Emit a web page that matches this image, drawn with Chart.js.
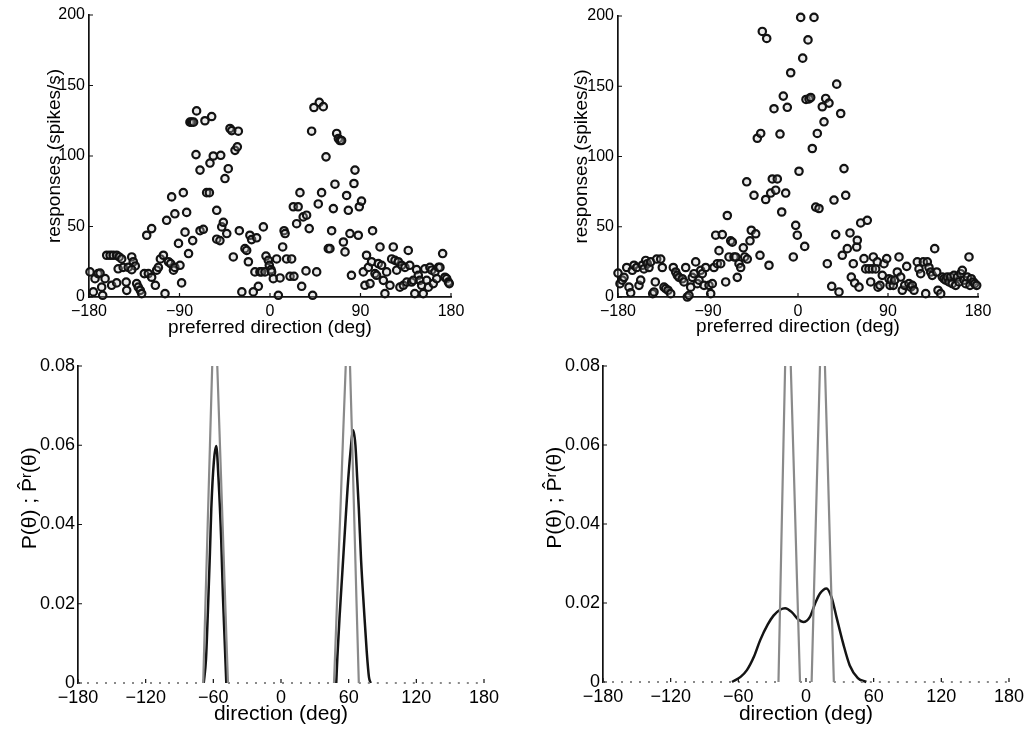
<!DOCTYPE html>
<html>
<head>
<meta charset="utf-8">
<script src="https://cdn.jsdelivr.net/npm/chart.js@4.4.1/dist/chart.umd.min.js"></script>
<style>
html, body { margin: 0; padding: 0; background: #fff; }
#wrap { position: relative; width: 1028px; height: 729px; }
canvas { position: absolute; }
</style>
</head>
<body>
<div id="wrap">
<canvas id="tl" width="514" height="340" style="left:0;top:0;width:514px;height:340px"></canvas>
<canvas id="tr" width="514" height="340" style="left:514px;top:0;width:514px;height:340px"></canvas>
<canvas id="bl" width="514" height="389" style="left:0;top:340px;width:514px;height:389px"></canvas>
<canvas id="br" width="514" height="389" style="left:514px;top:340px;width:514px;height:389px"></canvas>
</div>
<script>
// tick labels
const dirTicksTop = [-180, -90, 0, 90, 180];
const rateTicks = [0, 50, 100, 150, 200];
const dirTicksBottom = [-180, -120, -60, 0, 60, 120, 180];
const probTicks = [0, 0.02, 0.04, 0.06, 0.08];

// top left: [preferred direction, response]
const cellsLeft = [
  [-179,17.8],[-175.7,3.6],[-174,13],[-171,16.6],[-169,17],[-167.4,7],[-166.4,1.2],[-164,13],[-162.4,29.6],[-159,29.6],
  [-156,29.6],[-152.5,29.6],[-157.5,8.3],[-152.5,10],[-150,28.4],[-147.5,27],[-151,20],[-146,21],[-143,10.6],[-142.5,4.7],
  [-141,21],[-137.5,28.4],[-136,25],[-134,22],[-137.5,19.4],[-132.6,9.5],[-131,7],[-129,4.7],[-127.6,2.4],[-125,16.6],
  [-122.6,43.8],[-121,16.6],[-117.7,48.5],[-117.7,14],[-114,8.3],[-112.7,19],[-111,21],[-109,27],[-106,29.6],[-104.4,2.4],
  [-102.8,54.4],[-101,25],[-98.8,23.7],[-97.8,71],[-96,19],[-94.6,21],[-94.6,59],[-91,38],[-89.5,22.5],[-87.9,10],
  [-86.2,74],[-84.5,46],[-82.9,60],[-81,30.8],[-79.6,124],[-78,124],[-76,124],[-76.9,40],[-73.6,101],[-73,132],
  [-69.6,90],[-69.6,47],[-66.3,48],[-64.7,125],[-63,74],[-60.3,74],[-59.7,95],[-58,128],[-56.4,100],[-53,61.5],
  [-53,41],[-49.8,40],[-49,100.5],[-48,49.7],[-46.4,53],[-44.8,84],[-43,45],[-41.5,91],[-39.8,119.5],[-38,118],
  [-36.5,28.4],[-34.8,104],[-32.5,106.5],[-31.5,117.6],[-30.5,47],[-28,3.6],[-24.9,34.3],[-23.2,33],[-21.5,25],[-20,43.8],
  [-18.3,40.7],[-16.6,3.6],[-15,17.8],[-13.3,42],[-11.6,7.6],[-10,17.8],[-8.3,17.8],[-6.6,49.7],[-5,17.8],[-4,29],
  [-1.7,26],[-0.7,22.5],[1,19.4],[1.6,17.8],[3.3,13],[6.6,27],[8.3,1.2],[10,13.5],[12.6,35.5],[14,47],
  [15,45],[16.5,27],[19.9,14.7],[21.5,27],[23.2,64],[23.8,14.7],[26.5,52],[28,64],[29.8,74],[31.5,7.6],
  [33,56.8],[35.8,18.5],[36.4,58],[39,48.5],[41.4,117.6],[42.4,1.2],[43.7,134.4],[46.4,17.8],[48,66],[49,138],
  [51.3,74],[53,135],[55.7,99.4],[58,34.3],[59.6,34.3],[61.3,47],[63,62.7],[64.6,80],[66.3,116],[68,112.4],
  [69.6,111],[71.2,111],[73,39],[74.6,32],[76.2,72],[77.9,61.5],[79.5,45],[81,15.4],[83.5,80.5],[84.5,90],
  [87.8,43.8],[88.8,64],[91,68],[92.8,17.8],[94.4,8.3],[96,29.6],[97.8,21],[99.5,9.5],[101,25],[102,47],
  [104.4,16.6],[106,15.4],[107.7,23.7],[109.4,35.5],[111,22.5],[112.7,11.8],[114.3,2.4],[116,17.8],[119.3,8.3],[121,27],
  [122.6,35.5],[124.3,26],[126,19],[127.6,25],[129.2,7],[131,22.5],[132.6,8.3],[134.2,21],[136,10.6],[137.5,33],
  [139,22.5],[140.8,10.6],[142.5,11.8],[144,2.4],[145.8,19.4],[147.5,15.4],[149,11.8],[150.8,8.3],[152.4,2.4],[154,20],
  [155.8,11.8],[157.5,7],[159,21],[160.8,19],[162.4,9.5],[164,17.8],[165.8,13],[167.5,21],[169,21],[171.7,30.8],
  [174,14],[175.7,13],[177.4,10.6],[178.3,9.5]
];

// top right: [preferred direction, response]
const cellsRight = [
  [-180,17],[-178,9.5],[-175.7,12],[-174,14],[-171.3,21],[-169,7],[-167.3,3],[-165.7,19],[-164,22.6],[-161.3,21],
  [-159,8.3],[-157.3,12],[-155.7,22.6],[-154,20],[-152.3,26],[-150.7,23.7],[-149,21],[-147.3,25],[-145.3,2.4],[-144,3.6],
  [-142.7,10.7],[-141.3,27],[-137.3,27],[-135.7,21],[-134,7],[-132.3,6],[-130,4.8],[-127.3,2.4],[-124.7,21],[-122.3,17.8],
  [-120.7,15.4],[-119,14],[-115.7,13],[-114,10.7],[-112.3,21],[-110.7,0],[-109,1.2],[-107.3,7],[-105.7,14],[-104,16.6],
  [-102.3,25],[-100.7,9.5],[-99,12],[-97.3,19],[-95.7,16.6],[-94,8.3],[-92.3,21],[-89,8.3],[-87.3,2.4],[-85.7,9.5],
  [-84,21],[-82.3,44],[-80.7,23.7],[-79,33],[-77.3,23.7],[-75.7,44.4],[-72.3,10.7],[-70.7,58],[-69,28.5],[-67.3,40],
  [-65.7,39],[-64,28.5],[-62.3,28.5],[-60.7,14],[-59,23.7],[-57.3,21],[-54.7,35],[-53.3,28.5],[-51.3,82],[-50.7,27],
  [-48,40],[-46.7,47.5],[-44,72.4],[-42.3,45],[-40.7,113],[-38,29.7],[-37.3,116.4],[-35.7,189],[-32.3,69.4],[-31.3,184],
  [-29,22.6],[-27.3,74],[-25.7,84],[-24,134],[-22.3,76],[-20.7,84],[-18,116],[-16.3,60.5],[-14.7,143],[-12.3,74],
  [-10.7,135],[-7.3,159.6],[-4.7,28.5],[-2.3,51],[-0.7,44],[1,89.5],[2.7,199],[4.7,170],[6.7,36],[8,140.6],
  [10,183],[11,141],[12.7,142],[14.3,105.7],[16,199],[17.7,64],[19.3,116.4],[21,63],[24.3,135.4],[26,124.7],
  [27.7,141.3],[29.3,23.7],[31,138],[33.7,7.6],[36,69],[37.7,44.4],[38.7,151.5],[41,3.6],[42.7,130.6],[44.3,29.7],
  [46,91.4],[47.7,72.4],[49.3,34.4],[52,45.6],[53.3,14.2],[55.3,23.7],[56.7,10],[58.7,35.6],[59.3,40.4],[61,7],
  [62.7,52.7],[66,27.3],[67.7,20],[69.3,54.6],[71,20],[72.7,10.7],[74.3,20],[75.3,28.5],[77.7,20],[79.3,25],
  [80,7],[82,8.3],[84.3,15.4],[86,23.7],[88.7,27.3],[91,13],[92,8.3],[93.3,12],[95.3,8.3],[96.7,12],
  [99.3,17.8],[101,28.5],[102.7,14.2],[104.3,4.8],[106.7,8.3],[108.7,21.8],[111,9.5],[112.7,7],[114.3,8.3],[116,4.8],
  [119.3,25],[121,20],[122.7,16.6],[125.3,25],[127.7,2.4],[129.3,25],[131,21],[132.7,17.8],[134.3,15.4],[136.7,34.4],
  [138.7,17.8],[140,4.8],[142.7,2.4],[144.3,14.2],[146,13],[147.7,12],[149.3,14.2],[151,10.7],[152.7,14.2],[154.3,9.5],
  [156,15.4],[157.7,8.3],[159.3,14.2],[161,10.7],[162.7,16.6],[164.3,19],[166,12],[167.7,9.5],[169.3,14.2],[171,28.5],
  [172,8.3],[173.3,13],[175.3,10.7],[176.7,9.5],[178.7,8.3]
];

// bottom left: true distribution P(theta) and estimate
const trueLeft = [
  [-180,0],[-69,0],[-67,0.02],[-65,0.04],[-63,0.06],[-61,0.08],[-58.9,0.101],[-56.5,0.08],[-54,0.059],[-52,0.042],
  [-50,0.025],[-48,0.008],[-47,0],[47,0],[49,0.015],[51,0.031],[53,0.046],[55,0.062],[57,0.077],[59.6,0.097],
  [61.2,0.08],[63,0.062],[65,0.041],[67,0.02],[69,0],[180,0]
];
const estLeft = [
  [-68.5,0],[-66.5,0.006],[-64.7,0.019],[-63,0.033],[-61.8,0.044],[-59.5,0.056],[-57.4,0.0598],[-55.5,0.052],[-53,0.036],
  [-51.5,0.022],[-50,0.011],[-48.5,0],[0,null],
  [49,0],[50,0.0066],[52,0.017],[54.4,0.028],[57,0.04],[59,0.049],[61.5,0.058],[64,0.0638],[66,0.06],[67.5,0.052],
  [69,0.044],[71,0.031],[73.5,0.019],[76,0.008],[78,0.0015],[79.5,0]
];

// bottom right
const trueRight = [
  [-180,0],[-24.4,0],[-22,0.033],[-20,0.06],[-18.5,0.08],[-16.4,0.108],[-13.5,0.08],[-11,0.056],[-8,0.026],[-5.3,0],
  [5,0],[7,0.022],[9.5,0.049],[12.4,0.08],[14.5,0.103],[16.8,0.08],[19,0.058],[22,0.027],[24.7,0],[180,0]
];
const estRight = [
  [-65.6,0],[-58,0.0013],[-52.4,0.003],[-46,0.0065],[-40.6,0.0106],[-34,0.0145],[-28.8,0.0168],[-23,0.0183],[-18.5,0.0187],
  [-12.6,0.0177],[-6.8,0.0158],[-2.4,0.0152],[3.5,0.0165],[8,0.0198],[12.4,0.0224],[18.2,0.0237],[22.6,0.0215],[27,0.0165],
  [33,0.0097],[38.8,0.0042],[46,0.001],[53.5,0]
];

const FONT = '"Liberation Sans", Arial, Helvetica, sans-serif';
const INK = '#000';

const pts = arr => arr.map(p => ({x: p[0], y: p[1]}));
const signed = v => v < 0 ? '\u2212' + Math.abs(v) : String(v);

// MATLAB style ticks pointing into the plot
const innerTicks = {
  id: 'innerTicks',
  afterDraw(chart) {
    const {ctx, chartArea: a} = chart;
    const x = chart.scales.x, y = chart.scales.y;
    ctx.save();
    ctx.strokeStyle = '#111';
    ctx.lineWidth = 1.2;
    ctx.beginPath();
    x.ticks.forEach(t => {
      const px = x.getPixelForValue(t.value);
      ctx.moveTo(px, a.bottom); ctx.lineTo(px, a.bottom - 4);
    });
    y.ticks.forEach(t => {
      const py = y.getPixelForValue(t.value);
      ctx.moveTo(a.left, py); ctx.lineTo(a.left + 4, py);
    });
    ctx.stroke();
    ctx.restore();
  }
};

function panel(id, o) {
  const cv = document.getElementById(id);
  new Chart(cv, {
    type: o.type,
    data: { datasets: o.datasets },
    plugins: [innerTicks],
    options: {
      responsive: false,
      animation: false,
      layout: { padding: { left: 0, top: o.area[2], right: cv.width - o.area[1], bottom: 0 } },
      plugins: { legend: { display: false }, tooltip: { enabled: false } },
      scales: {
        x: {
          type: 'linear', min: -180, max: 180,
          afterBuildTicks: s => { s.ticks = o.xTicks.map(v => ({value: v})); },
          afterFit: s => { s.height = cv.height - o.area[3]; },
          grid: { drawOnChartArea: false, drawTicks: false, color: 'transparent' },
          border: { display: o.xBorder, color: '#111', width: 1.7 },
          ticks: { color: INK, padding: o.xPad, maxRotation: 0, font: { family: FONT, size: o.tickSize }, callback: signed },
          title: { display: true, text: o.xTitle, color: INK, font: { family: FONT, size: o.titleSize }, padding: { top: 0, bottom: o.xTitlePad } }
        },
        y: {
          type: 'linear', min: 0, max: o.yMax,
          afterBuildTicks: s => { s.ticks = o.yTicks.map(v => ({value: v})); },
          afterFit: s => { s.width = o.area[0]; },
          grid: { drawOnChartArea: false, drawTicks: false, color: 'transparent' },
          border: { display: true, color: '#111', width: 1.7 },
          ticks: { color: INK, padding: o.yPad, font: { family: FONT, size: o.tickSize }, callback: o.yFmt },
          title: { display: true, text: o.yTitle, color: INK, font: { family: FONT, size: o.titleSize }, padding: { top: o.yTitlePad, bottom: 0 } }
        }
      }
    }
  });
}

const scatterSet = arr => ({
  data: pts(arr), pointRadius: 3.7, pointBorderWidth: 2.2,
  pointBorderColor: '#121212', pointBackgroundColor: 'rgba(190,190,190,0.3)', clip: false
});
const zeroDots = ctx => (ctx.p0.parsed.y === 0 && ctx.p1.parsed.y === 0) ? [2, 7] : undefined;
const trueSet = arr => ({
  data: pts(arr), borderColor: '#8a8a8a', borderWidth: 2.2, pointRadius: 0, tension: 0,
  clip: { left: 4, right: 4, top: 0, bottom: 4 }, segment: { borderDash: zeroDots }
});
const estSet = arr => ({
  data: pts(arr), borderColor: '#141414', borderWidth: 2.5, pointRadius: 0, tension: 0.35,
  cubicInterpolationMode: 'monotone', clip: { left: 4, right: 4, top: 0, bottom: 4 }
});

const topCommon = {
  type: 'scatter', xTicks: dirTicksTop, yTicks: rateTicks, yMax: 200, xBorder: true,
  tickSize: 16, titleSize: 19, xPad: 5, yPad: 4,
  xTitle: 'preferred direction (deg)', yTitle: 'responses (spikes/s)', yFmt: v => String(v)
};
const botCommon = {
  type: 'line', xTicks: dirTicksBottom, yTicks: probTicks, yMax: 0.08, xBorder: false,
  tickSize: 18, titleSize: 21, xPad: 4, yPad: 3, xTitlePad: 2.4,
  xTitle: 'direction (deg)', yTitle: '\u2002\u2002\u2002\u2002\u2002P(\u03b8) ; P\u0302\u02b3(\u03b8)',
  yFmt: v => v === 0 ? '0' : v.toFixed(2)
};

panel('tl', Object.assign({}, topCommon, { area: [89, 451, 15, 297], xTitlePad: 0.6, yTitlePad: 43.6, datasets: [scatterSet(cellsLeft)] }));
panel('tr', Object.assign({}, topCommon, { area: [104, 464, 16, 297], xTitlePad: 1.6, yTitlePad: 56.6, datasets: [scatterSet(cellsRight)] }));
panel('bl', Object.assign({}, botCommon, { area: [78, 484, 26, 343], yTitlePad: 17.4, datasets: [trueSet(trueLeft), estSet(estLeft)] }));
panel('br', Object.assign({}, botCommon, { area: [89, 496, 26, 342], yTitlePad: 28.4, datasets: [trueSet(trueRight), estSet(estRight)] }));
</script>
</body>
</html>
